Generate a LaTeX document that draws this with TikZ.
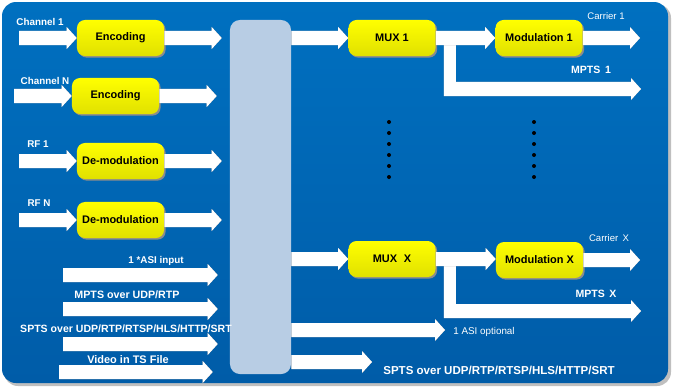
\documentclass[tikz,border=0pt]{standalone}
\usepackage{fontspec}
\setmainfont{Liberation Sans}
\usetikzlibrary{calc,shadows}

\definecolor{bgtop}{RGB}{0,112,192}
\definecolor{bgbot}{RGB}{0,92,168}
\definecolor{barblue}{RGB}{184,205,228}
\definecolor{arrshade}{RGB}{110,110,120}

% white block arrow from #1 to #2 (horizontal, tip at x of #2)
\newcommand{\flowarrow}[2]{%
  \foreach \col/\sh in {arrshade/0.04cm,white/0cm}{%
    \fill[\col, shift={(\sh,-\sh)}] let \p1=#1, \p2=#2 in
      (\x1,\y1+0.175cm) -- (\x2-0.25cm,\y1+0.175cm) -- (\x2-0.25cm,\y1+0.275cm)
      -- (\x2,\y1) -- (\x2-0.25cm,\y1-0.275cm) -- (\x2-0.25cm,\y1-0.175cm)
      -- (\x1,\y1-0.175cm) -- cycle;
  }}
% L-shaped block arrow branching down from #1 to tip #2
\newcommand{\brancharrow}[2]{%
  \foreach \col/\sh in {arrshade/0.04cm,white/0cm}{%
    \fill[\col, shift={(\sh,-\sh)}] let \p1=#1, \p2=#2 in
      (\x1+0.2cm,\y1) -- (\x1+0.2cm,\y2-0.175cm) -- (\x2-0.25cm,\y2-0.175cm)
      -- (\x2-0.25cm,\y2-0.275cm) -- (\x2,\y2) -- (\x2-0.25cm,\y2+0.275cm)
      -- (\x2-0.25cm,\y2+0.175cm) -- (\x1+0.5cm,\y2+0.175cm) -- (\x1+0.5cm,\y1) -- cycle;
  }}

\begin{document}
\begin{tikzpicture}[x=0.025cm, y=-0.025cm,
    procbox/.style={rounded corners=0.2cm, top color=yellow, bottom color=yellow!88!black,
      minimum width=2.175cm, minimum height=0.9cm, inner sep=0pt,
      font=\fontsize{7.8}{9}\selectfont\bfseries,
      drop shadow={shadow xshift=0.04cm, shadow yshift=-0.04cm, opacity=1, fill=black!45}},
    lbl/.style={text=white, inner sep=0pt, font=\fontsize{7}{8}\selectfont\bfseries}]
    \useasboundingbox (0,0) rectangle (675,388);

    % background panel
    \fill[black!25, rounded corners=0.35cm] (4,4) rectangle (671,386);
    \shade[top color=bgtop, bottom color=bgbot, rounded corners=0.35cm] (2,2) rectangle (668,383);

    % central bus
    \node[fill=barblue, rounded corners=0.25cm, minimum width=1.525cm, minimum height=8.85cm] (bar) at (260.5,197) {};

    % processing blocks
    \node[procbox] (enc1) at (120.5,38) {Encoding};
    \node[procbox] (encN) at (115.5,96) {Encoding};
    \node[procbox] (demod1) at (120.5,161) {De-modulation};
    \node[procbox] (demodN) at (120.5,220) {De-modulation};
    \node[procbox] (mux1) at (392,38) {MUX 1};
    \node[procbox] (mod1) at (539,38) {Modulation 1};
    \node[procbox] (muxX) at (392,259) {MUX\,\, X};
    \node[procbox] (modX) at (539.5,260) {Modulation X};

    % free ends
    \coordinate (ch1) at (19,38);
    \coordinate (chN) at (14,96);
    \coordinate (rf1) at (19,161);
    \coordinate (rfN) at (19,220);
    \coordinate (asiin) at (63,275);
    \coordinate (mptsin) at (63,309);
    \coordinate (sptsin) at (63,344);
    \coordinate (filein) at (59,372);
    \coordinate (carrier1) at (640,38);
    \coordinate (mpts1) at (641,89);
    \coordinate (carrierX) at (640,260);
    \coordinate (mptsX) at (641,311);
    \coordinate (asiout) at (445,330);
    \coordinate (sptsout) at (372,362);

    % inputs
    \flowarrow{(ch1)}{(enc1.west)}
    \flowarrow{(chN)}{(encN.west)}
    \flowarrow{(rf1)}{(demod1.west)}
    \flowarrow{(rfN)}{(demodN.west)}
    \flowarrow{(enc1.east)}{($(bar.west |- enc1.east)+(-8,0)$)}
    \flowarrow{(encN.east)}{($(bar.west |- encN.east)+(-13,0)$)}
    \flowarrow{(demod1.east)}{($(bar.west |- demod1.east)+(-8,0)$)}
    \flowarrow{(demodN.east)}{($(bar.west |- demodN.east)+(-8,0)$)}
    \flowarrow{(asiin)}{($(bar.west |- asiin)+(-12,0)$)}
    \flowarrow{(mptsin)}{($(bar.west |- mptsin)+(-12,0)$)}
    \flowarrow{(sptsin)}{($(bar.west |- sptsin)+(-12,0)$)}
    \flowarrow{(filein)}{($(bar.west |- filein)+(-17,0)$)}

    % outputs
    \flowarrow{(bar.east |- mux1.west)}{(mux1.west)}
    \flowarrow{(bar.east |- muxX.west)}{(muxX.west)}
    \flowarrow{(bar.east |- asiout)}{(asiout)}
    \flowarrow{(bar.east |- sptsout)}{(sptsout)}
    \brancharrow{(mux1.east)}{(mpts1)}
    \brancharrow{(muxX.east)}{(mptsX)}
    \flowarrow{(mux1.east)}{(mod1.west)}
    \flowarrow{(muxX.east)}{(modX.west)}
    \flowarrow{(mod1.east)}{(carrier1)}
    \flowarrow{(modX.east)}{(carrierX)}

    % labels
    \node[lbl] (lch1) at (40,22) {Channel 1};
    \node[lbl] (lchN) at (45,81) {Channel N};
    \node[lbl] (lrf1) at (38,144) {RF 1};
    \node[lbl] (lrfN) at (39,203) {RF N};
    \node[lbl] (lasiin) at (156,261) {1 *ASI input};
    \node[lbl, font=\fontsize{7.6}{9}\selectfont\bfseries] (lmptsin) at (127,295) {MPTS over UDP/RTP};
    \node[lbl, font=\fontsize{7.5}{9}\selectfont\bfseries] (lsptsin) at (126,329) {SPTS over UDP/RTP/RTSP/HLS/HTTP/SRT};
    \node[lbl, font=\fontsize{7.8}{9}\selectfont\bfseries] (lfilein) at (128,360) {Video in TS File};
    \node[lbl, font=\fontsize{6.8}{8}\selectfont] (lcarrier1) at (606,16) {Carrier 1};
    \node[lbl, font=\fontsize{7.5}{9}\selectfont\bfseries] (lmpts1) at (591,70) {MPTS\, 1};
    \node[lbl, font=\fontsize{6.8}{8}\selectfont] (lcarrierX) at (609,238) {Carrier\, X};
    \node[lbl, font=\fontsize{7.5}{9}\selectfont\bfseries] (lmptsX) at (596,294) {MPTS\, X};
    \node[lbl, font=\fontsize{7}{8}\selectfont] (lasiout) at (484,332) {1 ASI optional};
    \node[lbl, font=\fontsize{8.2}{10}\selectfont\bfseries] (lsptsout) at (499,370) {SPTS over UDP/RTP/RTSP/HLS/HTTP/SRT};

    % more multiplexers
    \foreach \yy in {122,133,...,177} {
        \fill (389,\yy) circle (0.05cm);
        \fill (534,\yy) circle (0.05cm);
    }
\end{tikzpicture}
\end{document}
